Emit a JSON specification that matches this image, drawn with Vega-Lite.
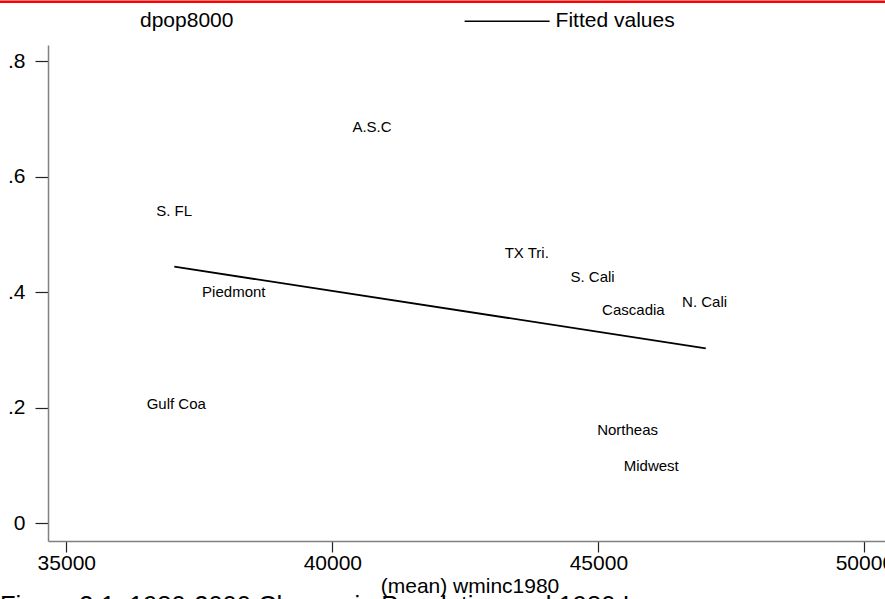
{
  "$schema": "https://vega.github.io/schema/vega-lite/v6.json",
  "width": 843,
  "height": 496,
  "autosize": {"type": "none"},
  "padding": {"left": 48, "top": 45, "right": 0, "bottom": 58},
  "background": "white",
  "title": {
    "text": "Figure 3.1: 1980-2000 Change in Population and 1980 Income",
    "orient": "bottom",
    "anchor": "start",
    "frame": "group",
    "dx": -48,
    "offset": -2,
    "fontSize": 25.5,
    "font": "Liberation Sans",
    "fontWeight": "normal",
    "color": "black"
  },
  "config": {
    "view": {"stroke": null},
    "axis": {
      "domainColor": "#808080",
      "domainWidth": 1.5,
      "tickColor": "#222222",
      "tickWidth": 1.2,
      "grid": false,
      "labelFont": "Liberation Sans",
      "labelFontSize": 21,
      "labelColor": "black",
      "titleFont": "Liberation Sans",
      "titleFontSize": 21,
      "titleFontWeight": "normal",
      "titleColor": "black",
      "labelOverlap": false,
      "labelBound": false,
      "labelFlush": false
    },
    "axisY": {"tickSize": 13, "labelPadding": 10},
    "axisX": {"tickSize": 11, "labelPadding": 0, "titlePadding": 2}
  },
  "datasets": {
    "points": [
      {"region": "A.S.C", "inc": 40746, "dpop": 0.687},
      {"region": "S. FL", "inc": 37028, "dpop": 0.540},
      {"region": "Gulf Coa", "inc": 37066, "dpop": 0.207},
      {"region": "Piedmont", "inc": 38148, "dpop": 0.400},
      {"region": "TX Tri.", "inc": 43654, "dpop": 0.4675},
      {"region": "S. Cali", "inc": 44891, "dpop": 0.427},
      {"region": "Cascadia", "inc": 45658, "dpop": 0.369},
      {"region": "N. Cali", "inc": 46996, "dpop": 0.384},
      {"region": "Northeas", "inc": 45549, "dpop": 0.1616},
      {"region": "Midwest", "inc": 45994, "dpop": 0.099}
    ],
    "fitted": [
      {"inc": 37030, "fit": 0.4443},
      {"inc": 47019, "fit": 0.3030}
    ]
  },
  "layer": [
    {
      "data": {"values": [{}]},
      "mark": {"type": "rule", "color": "#ff0000", "strokeWidth": 2.5, "clip": false},
      "encoding": {
        "x": {"datum": 33600, "type": "quantitative", "scale": {"domain": [34656, 50500], "nice": false, "zero": false}},
        "x2": {"datum": 51500},
        "y": {"datum": 0.903, "type": "quantitative", "scale": {"domain": [-0.0307, 0.8282], "nice": false, "zero": false}}
      }
    },
    {
      "data": {"name": "points"},
      "mark": {"type": "text", "font": "Liberation Sans", "fontSize": 15, "align": "center", "baseline": "middle"},
      "encoding": {
        "x": {
          "field": "inc", "type": "quantitative",
          "scale": {"domain": [34656, 50500], "nice": false, "zero": false},
          "axis": {"values": [35000, 40000, 45000, 50000], "format": "d", "title": "(mean) wminc1980"}
        },
        "y": {
          "field": "dpop", "type": "quantitative",
          "scale": {"domain": [-0.0307, 0.8282], "nice": false, "zero": false},
          "axis": {"values": [0, 0.2, 0.4, 0.6, 0.8], "title": null, "labelExpr": "datum.value == 0 ? '0' : replace(format(datum.value, '.1f'), '0.', '.')"}
        },
        "text": {"field": "region"},
        "color": {
          "datum": "dpop8000",
          "scale": {"domain": ["dpop8000", "Fitted values"], "range": ["black", "black"]},
          "legend": {
            "orient": "none",
            "legendX": 0,
            "legendY": -67.5,
            "direction": "horizontal",
            "columns": 2,
            "title": null,
            "symbolType": "stroke",
            "symbolSize": 7225,
            "symbolStrokeWidth": 1.5,
            "symbolStrokeColor": "black",
            "labelFont": "Liberation Sans",
            "labelFontSize": 21,
            "labelColor": "black",
            "labelOffset": 5,
            "columnPadding": 227.6,
            "padding": 0,
            "encode": {"symbols": {"update": {"opacity": {"signal": "datum.value === 'dpop8000' ? 0 : 1"}}}}
          }
        }
      }
    },
    {
      "data": {"name": "fitted"},
      "mark": {"type": "line", "strokeWidth": 1.8},
      "encoding": {
        "x": {"field": "inc", "type": "quantitative", "title": "(mean) wminc1980"},
        "y": {"field": "fit", "type": "quantitative", "title": null},
        "color": {"datum": "Fitted values"}
      }
    }
  ]
}
